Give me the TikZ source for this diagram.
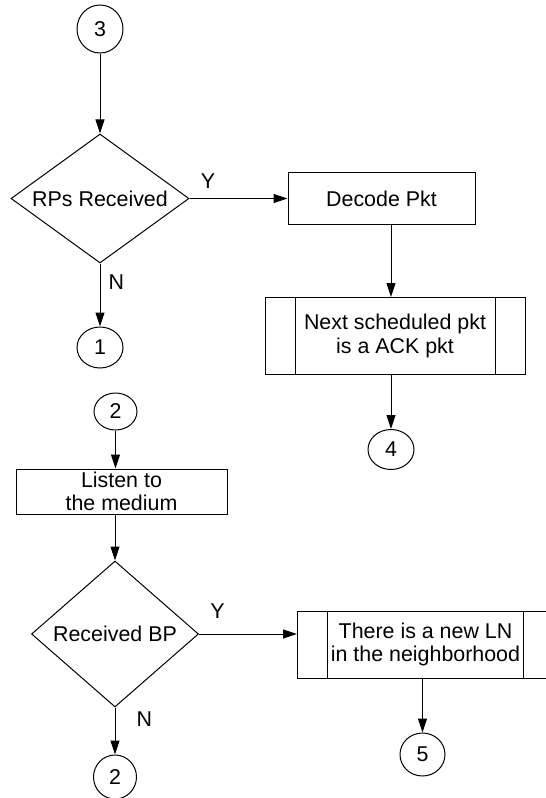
\documentclass[tikz,border=0pt]{standalone}
\usepackage{fontspec}
\setmainfont{Liberation Sans}
\usetikzlibrary{shapes.geometric, arrows, positioning, calc, arrows.meta}

\begin{document}
\begin{tikzpicture}[
    x=0.5pt, y=-0.5pt,
    every node/.style={font=\fontsize{10.7}{11.7}\selectfont},
    conn/.style={ellipse, draw, inner sep=0pt, minimum width=23pt, minimum height=20.5pt},
    decision/.style={diamond, draw, inner sep=0pt},
    proc/.style={rectangle, draw, align=center, inner sep=0.5pt},
    subr/.style={rectangle, draw, align=center, inner sep=0.5pt,
        path picture={
            \draw ([xshift=15pt]path picture bounding box.north west) -- ([xshift=15pt]path picture bounding box.south west);
            \draw ([xshift=-15pt]path picture bounding box.north east) -- ([xshift=-15pt]path picture bounding box.south east);
        }},
    lbl/.style={inner sep=0pt},
    arrow/.style={-{Triangle[length=7pt, width=4.5pt]}, line width=0.5pt},
    line width=0.5pt
]
\useasboundingbox (0,0) rectangle (546,798);

% first part
\node[conn, minimum height=24pt] (c3) at (100,29) {3};
\node[decision, minimum width=89pt, minimum height=64.5pt, below=40pt of c3] (rp) {\makebox[0pt]{RPs Received}};
\node[conn, below=31.5pt of rp] (c1) {1};
\node[proc, minimum width=93.5pt, minimum height=26pt, right=49pt of rp] (dec) {Decode Pkt};
\node[subr, minimum width=130pt, minimum height=38.5pt, below=36pt of dec, xshift=6.75pt] (sub) {Next scheduled pkt\\is a ACK pkt};
\node[conn, minimum height=20pt, below=27pt of sub, xshift=-2pt] (c4) {4};

\draw[arrow] (c3) -- (rp);
\draw[arrow] (rp) -- node[lbl, above=5pt, pos=0.19] {Y} (dec);
\draw[arrow] (rp) -- node[lbl, right=4pt, pos=0.29] {N} (c1);
\draw[arrow] (c4 |- dec.south) -- (c4 |- sub.north);
\draw[arrow] (c4 |- sub.south) -- (c4);

% second part
\node[conn, minimum width=21.5pt, minimum height=18.5pt] (c2) at (115.5,411.5) {2};
\node[proc, minimum width=105.5pt, minimum height=22.5pt, below=19pt of c2, xshift=3pt] (listen) {Listen to\\the medium};
\node[decision, minimum width=83.5pt, minimum height=73pt, below=23pt of listen, xshift=-3.25pt] (bp) {\makebox[0pt]{Received BP}};
\node[subr, minimum width=128pt, minimum height=33.5pt, right=49pt of bp, yshift=-5.25pt] (newln) {There is a new LN\\in the neighborhood};
\node[conn, minimum width=22.5pt, minimum height=21.5pt, below=27pt of newln, xshift=-1.5pt] (c5) {5};
\node[conn, minimum width=21.5pt, minimum height=22pt, below=23.5pt of bp] (c2b) {2};

\draw[arrow] (c2) -- (c2 |- listen.north);
\draw[arrow] (bp |- listen.south) -- (bp);
\draw[arrow] (bp) -- node[lbl, above=7.5pt, pos=0.19] {Y} (bp -| newln.west);
\draw[arrow] (bp) -- node[lbl, right=10.5pt, pos=0.245] {N} (c2b);
\draw[arrow] (c5 |- newln.south) -- (c5);
\end{tikzpicture}
\end{document}
